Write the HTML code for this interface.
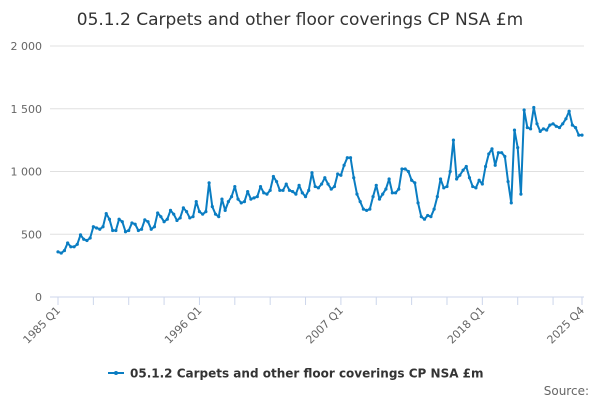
<!DOCTYPE html>
<html><head><meta charset="utf-8"><style>
body{margin:0;background:#fff;font-family:"Liberation Sans","DejaVu Sans",sans-serif}
svg text{font-family:"DejaVu Sans","Liberation Sans",sans-serif}
</style></head><body>
<svg id="chart" width="600" height="400" xmlns="http://www.w3.org/2000/svg">
<rect width="600" height="400" fill="#fff"/>
<text x="300" y="25" text-anchor="middle" font-size="17" fill="#333">05.1.2 Carpets and other floor coverings CP NSA £m</text>
<g id="grid"></g><g id="xaxis"></g><g id="series"></g>
<g>
<line x1="108" y1="373" x2="124" y2="373" stroke="#0a7dc2" stroke-width="2"/>
<circle cx="116" cy="373" r="2" fill="#0a7dc2"/>
<text x="130" y="377.5" font-size="12" font-weight="bold" fill="#333">05.1.2 Carpets and other floor coverings CP NSA £m</text>
</g>
<text x="589" y="395" text-anchor="end" font-size="12" fill="#666">Source:</text>
</svg>
<script>
const yTicks=[0,500,1000,1500,2000];
const yTickLabels=["0","500","1 000","1 500","2 000"];
const xLabelIdx=[0,44,88,132,163];
const xLabels=["1985 Q1","1996 Q1","2007 Q1","2018 Q1","2025 Q4"];
const values=[
360,350,370,430, 400,400,420,495, 460,450,470,560, 550,540,560,665,
620,530,530,620, 600,520,530,590, 580,530,540,615, 600,540,560,670,
640,600,620,690, 660,610,630,710, 680,630,640,760, 680,660,680,910,
720,660,640,780, 690,760,800,880, 780,750,760,840, 780,790,800,880,
830,820,850,960, 920,850,850,900, 850,840,820,890, 830,800,850,990,
880,870,900,950, 900,860,880,980, 970,1050,1110,1110, 950,820,760,700,
690,700,800,890, 780,820,860,940, 830,830,860,1020, 1020,1000,930,910,
750,640,620,650, 640,700,800,940, 870,880,1000,1250, 940,970,1010,1040,
950,880,870,930, 900,1040,1140,1180, 1050,1150,1150,1120, 920,750,1330,1190,
820,1490,1350,1340, 1510,1380,1320,1340, 1330,1370,1380,1360, 1350,1380,1420,1480,
1370,1350,1290,1290];
const NS="http://www.w3.org/2000/svg";
const x0=58,x1=582,yb=297,yt=46,ymax=2000;
const xs=i=>x0+(x1-x0)*i/(values.length-1);
const ys=v=>yb-(yb-yt)*v/ymax;
function mk(t,a,p){const e=document.createElementNS(NS,t);for(const k in a)e.setAttribute(k,a[k]);p.appendChild(e);return e;}
const grid=document.getElementById('grid');
yTicks.forEach((v,i)=>{
 const y=ys(v);
 if(v>0){const l=mk('line',{x1:50,x2:584,y1:y,y2:y,stroke:'#e0e0e0'},grid);
 
 }
 const t=mk('text',{x:42,y:y+4,'text-anchor':'end','font-size':11,fill:'#666'},grid);
 
 
 t.textContent=yTickLabels[i];
});
const xa=document.getElementById('xaxis');
const ax=mk('line',{x1:50,x2:584,y1:yb,y2:yb,stroke:'#ccd6eb'},xa);


for(let i=0;i<values.length;i+=11){mk('line',{x1:xs(i),x2:xs(i),y1:yb,y2:yb+8,stroke:'#ccd6eb'},xa);}
mk('line',{x1:xs(163),x2:xs(163),y1:yb,y2:yb+8,stroke:'#ccd6eb'},xa);
xLabelIdx.forEach((q,i)=>{
 const x=xs(q)+3,y=yb+14;
 const t=mk('text',{x:x,y:y,'text-anchor':'end','font-size':11,fill:'#666',transform:`rotate(-45 ${x} ${y})`},xa);
 
 
 t.textContent=xLabels[i];
});
const s=document.getElementById('series');
const path=mk('polyline',{points:values.map((v,i)=>xs(i)+','+ys(v)).join(' '),fill:'none',stroke:'#0a7dc2','stroke-width':2,'stroke-linejoin':'round'},s);


values.forEach((v,i)=>{
 const c=mk('circle',{cx:xs(i),cy:ys(v),r:1.6,fill:'#0a7dc2'},s);
 
 
});
</script>
</body></html>
